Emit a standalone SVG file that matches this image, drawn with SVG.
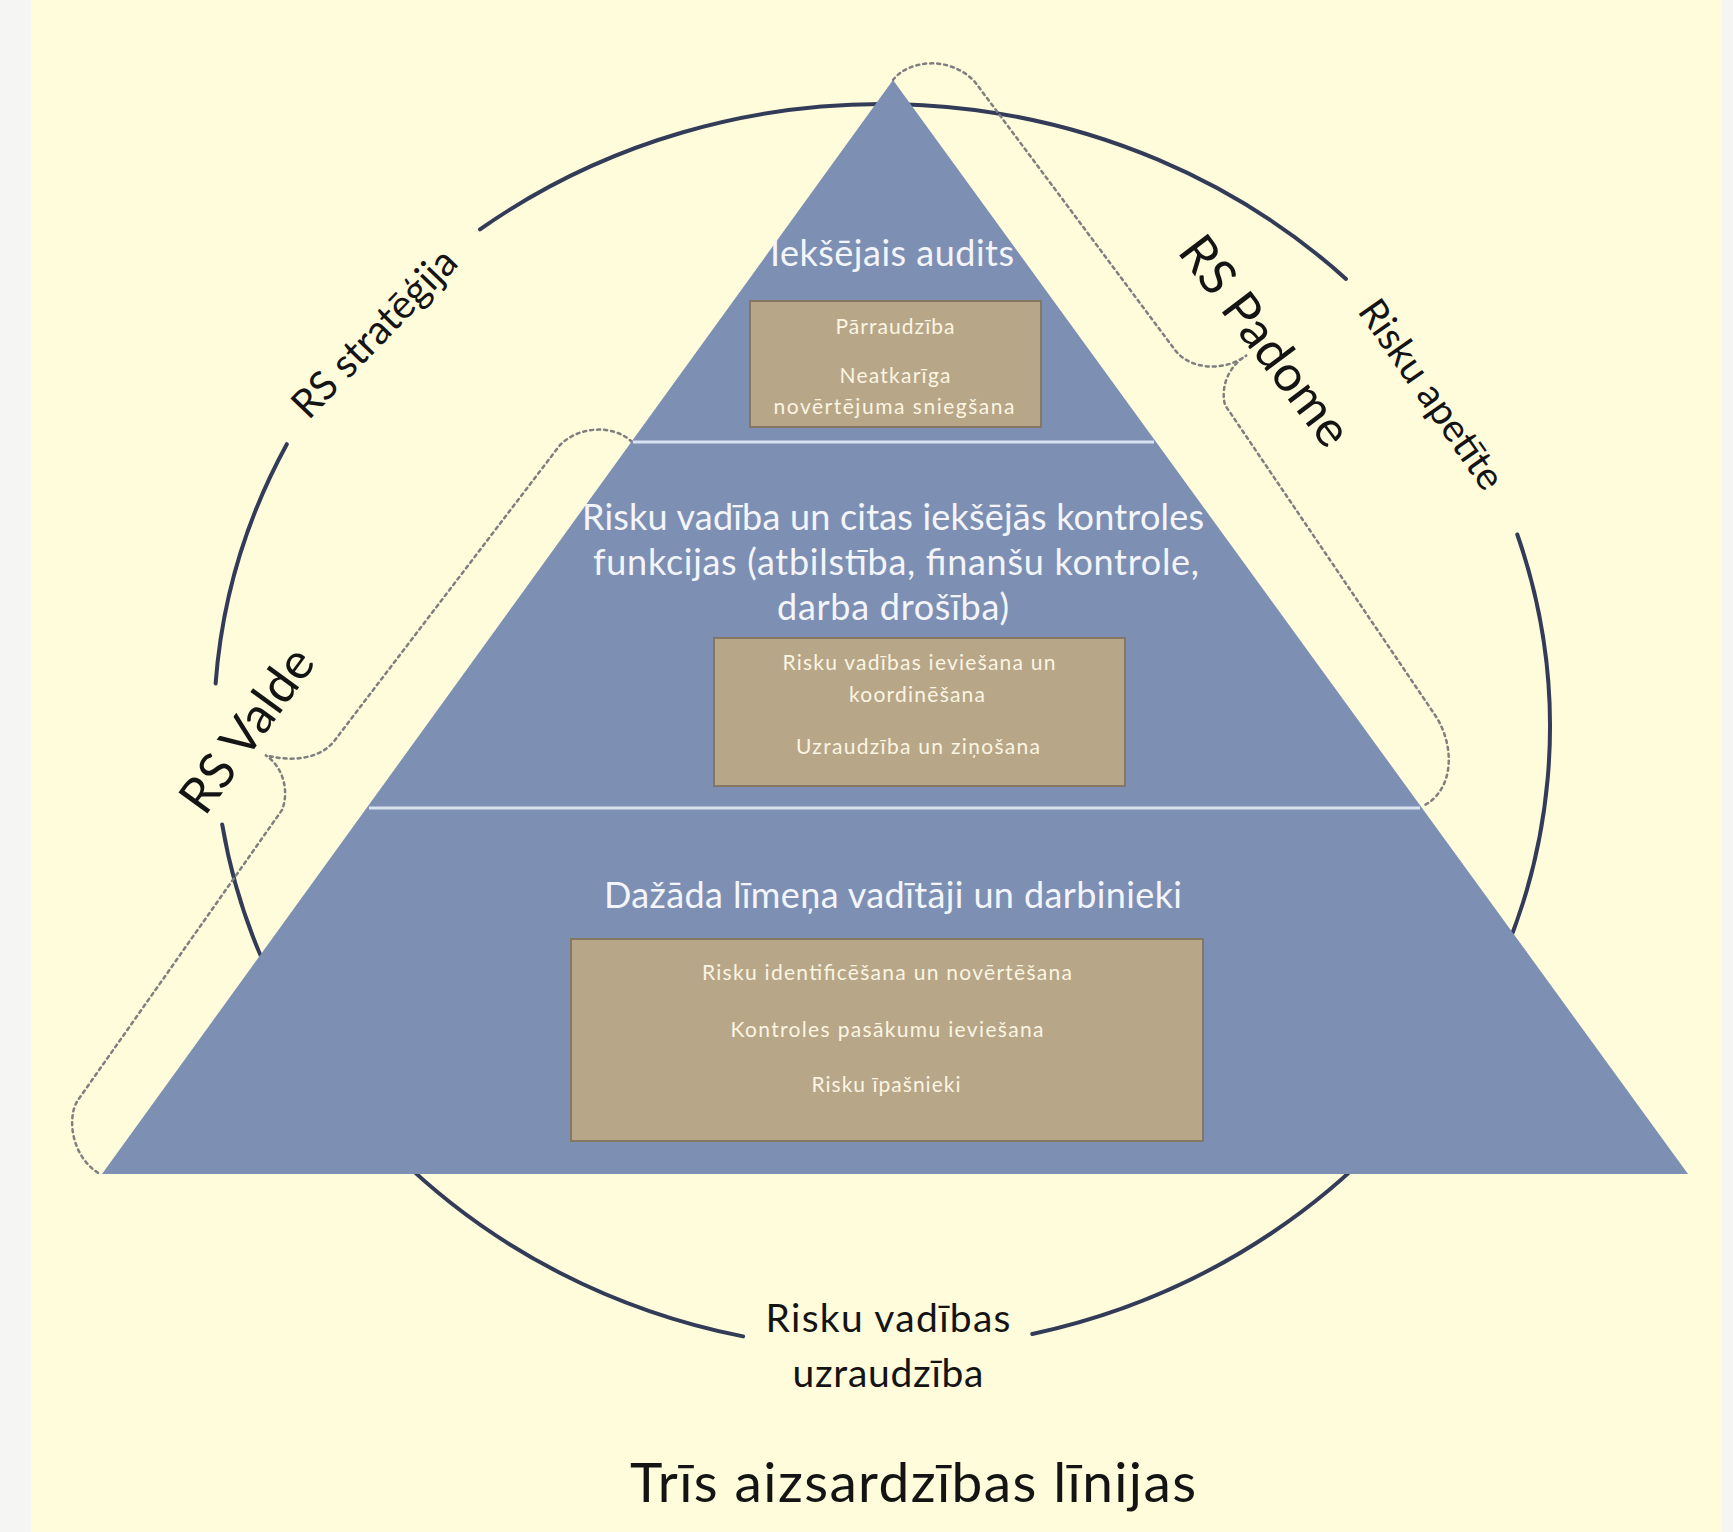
<svg xmlns="http://www.w3.org/2000/svg" width="1733" height="1532" viewBox="0 0 1733 1532">
<style>
.arc{fill:none;stroke:#323c58;stroke-width:4;stroke-linecap:round}
.dot{fill:none;stroke:#7f7f7f;stroke-width:2.5;stroke-dasharray:3 4;stroke-linecap:round}
.tri{fill:#7d90b4}
.div{stroke:#d9e3f0;stroke-width:3}
.box{fill:#b8a688;stroke:#857762;stroke-width:2}
.t{font-family:Lato,'Open Sans','Liberation Sans',sans-serif;text-anchor:middle}
.w{fill:#f3f5fa;font-size:36px}
.s{fill:#fbf5e2;font-size:21px}
.k{fill:#141414}
</style>
<rect x="0" y="0" width="1733" height="1532" fill="#f5f5f3"/>
<rect x="31" y="0" width="1691" height="1532" fill="#fffcdc"/>
<g id="connectors">
<path class="arc" d="M 286.8 444.2 A 668 623 0 0 0 215.6 683.5"/>
<path class="arc" d="M 222.2 824.5 A 668 623 0 0 0 743.1 1336.4"/>
<path class="arc" d="M 1032.3 1334 A 668 623 0 0 0 1517.3 534.5"/>
<path class="arc" d="M 1346 278.9 A 668 623 0 0 0 480 229.4"/>
<path id="bracket-padome" class="dot" d="M 893 80 C 908 60, 950 55, 975 82 L 1175 350 C 1190 370, 1225 372, 1247 355 C 1230 365, 1220 385, 1225 405 L 1435 715 C 1455 745, 1455 790, 1423 806"/>
<path id="bracket-valde" class="dot" d="M 632 442 C 615 425, 580 425, 560 445 L 335 740 C 320 760, 290 762, 265 755 C 282 765, 290 790, 282 810 L 78 1100 C 66 1118, 72 1158, 100 1174"/>
</g>
<g id="tier1">
<polygon class="tri" points="893,80 631.3,442 1156.1,442"/>
<rect class="box" x="750" y="301" width="291" height="126"/>
<text class="t w" x="892" y="266" textLength="244">Iekšējais audits</text>
<text class="t s" x="895" y="334" textLength="119">Pārraudzība</text>
<text class="t s" x="895" y="383" textLength="111">Neatkarīga</text>
<text class="t s" x="894" y="414" textLength="241">novērtējuma sniegšana</text>
</g>
<g id="tier2">
<polygon class="tri" points="631.3,442 1156.1,442 1422,808 366.6,808"/>
<rect class="box" x="714" y="638" width="411" height="148"/>
<text class="t w" x="893" y="530" textLength="622">Risku vadība un citas iekšējās kontroles</text>
<text class="t w" x="896" y="575" textLength="606">funkcijas (atbilstība, finanšu kontrole,</text>
<text class="t w" x="893" y="620" textLength="232">darba drošība)</text>
<text class="t s" x="919" y="670" textLength="273">Risku vadības ieviešana un</text>
<text class="t s" x="917" y="702" textLength="136">koordinēšana</text>
<text class="t s" x="918" y="754" textLength="244">Uzraudzība un ziņošana</text>
</g>
<g id="tier3">
<polygon class="tri" points="366.6,808 1422,808 1688,1174 102,1174"/>
<rect class="box" x="571" y="939" width="632" height="202"/>
<text class="t w" x="893" y="908" textLength="578">Dažāda līmeņa vadītāji un darbinieki</text>
<text class="t s" x="887" y="980" textLength="370">Risku identificēšana un novērtēšana</text>
<text class="t s" x="887" y="1037" textLength="313">Kontroles pasākumu ieviešana</text>
<text class="t s" x="886" y="1092" textLength="149">Risku īpašnieki</text>
</g>
<g id="dividers">
<line class="div" x1="633" y1="442" x2="1154" y2="442"/>
<line class="div" x1="369" y1="808" x2="1420" y2="808"/>
</g>
<g id="label-strategija"><text class="t k" transform="translate(374,333) rotate(-46)" y="14" font-size="40">RS stratēģija</text></g>
<g id="label-valde"><text class="t k" transform="translate(247,730) rotate(-54)" y="17" font-size="50">RS Valde</text></g>
<g id="label-padome"><text class="t k" transform="translate(1265,341) rotate(53)" y="17" font-size="50">RS Padome</text></g>
<g id="label-apetite"><text class="t k" transform="translate(1432,394) rotate(55)" y="14" font-size="39">Risku apetīte</text></g>
<g id="label-uzraudziba">
<text class="t k" x="888" y="1332" font-size="39" textLength="245">Risku vadības</text>
<text class="t k" x="888" y="1387" font-size="39" textLength="191">uzraudzība</text>
</g>
<g id="title"><text class="t k" x="913" y="1502" font-size="55" textLength="566">Trīs aizsardzības līnijas</text></g>
</svg>
